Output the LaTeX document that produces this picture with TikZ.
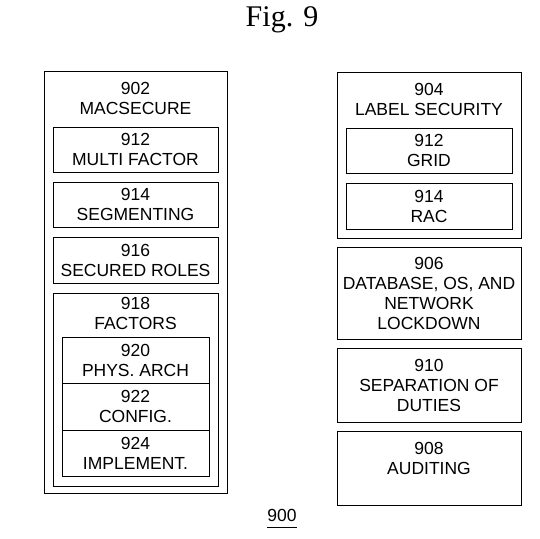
\documentclass[tikz,border=0pt]{standalone}
\usepackage{fontspec}
\setmainfont{Liberation Sans}
\newfontfamily\figfont{Liberation Serif}
\usepackage{tikz}

\begin{document}
\begin{tikzpicture}[x=1pt,y=-1pt,
    blk/.style={draw=black, line width=1pt, rectangle, inner sep=0pt, align=center,
        font=\fontsize{17.5}{20}\selectfont},
    hdr/.style={anchor=north, inner sep=0pt, align=center, font=\fontsize{17.5}{20}\selectfont}]
        \useasboundingbox (0,0) rectangle (540,538); % frame
        \node[anchor=base, inner sep=0pt, font=\figfont\fontsize{30}{30}\selectfont] (title) at (282,26) {Fig. 9};
        % left column
        \node[blk, minimum width=183, minimum height=422] (mac) at (135.5,282) {};
        \node[hdr] (machdr) at (135.5,82) {902\\MACSECURE};
        \node[blk, minimum width=165, minimum height=45] (mfa) at (135.5,149.5) {912\\MULTI FACTOR};
        \node[blk, minimum width=165, minimum height=45] (seg) at (135.5,204.5) {914\\SEGMENTING};
        \node[blk, minimum width=165, minimum height=46] (roles) at (135.5,260) {916\\SECURED ROLES};
        \node[blk, minimum width=165, minimum height=193] (factors) at (135.5,389.5) {};
        \node[hdr] (facthdr) at (135.5,297) {918\\FACTORS};
        \node[blk, minimum width=147, minimum height=46] (phys) at (135.5,360) {920\\PHYS. ARCH};
        \node[blk, minimum width=147, minimum height=47] (config) at (135.5,406.5) {922\\CONFIG.};
        \node[blk, minimum width=147, minimum height=46] (impl) at (135.5,453) {924\\IMPLEMENT.};
        % right column
        \node[blk, minimum width=184, minimum height=166] (lbl) at (429,155) {};
        \node[hdr] (lblhdr) at (429,83) {904\\LABEL SECURITY};
        \node[blk, minimum width=166, minimum height=45] (grid) at (429,150.5) {912\\GRID};
        \node[blk, minimum width=166, minimum height=46] (rac) at (429,206) {914\\RAC};
        \node[blk, minimum width=184, minimum height=92] (lock) at (429,293) {906\\DATABASE, OS, AND\\NETWORK\\LOCKDOWN};
        \node[blk, minimum width=184, minimum height=74] (sep) at (429,385) {910\\SEPARATION OF\\DUTIES};
        \node[blk, minimum width=184, minimum height=74] (audit) at (429,468) {};
        \node[hdr] (audhdr) at (429,442) {908\\AUDITING};
        % numero
        \node[anchor=base, inner sep=0pt, font=\fontsize{17.5}{20}\selectfont] (num) at (282,521) {900};
        \draw[line width=1pt] ([yshift=-6pt]num.base west) -- ([yshift=-6pt]num.base east); % soulignement
    \end{tikzpicture}
\end{document}
